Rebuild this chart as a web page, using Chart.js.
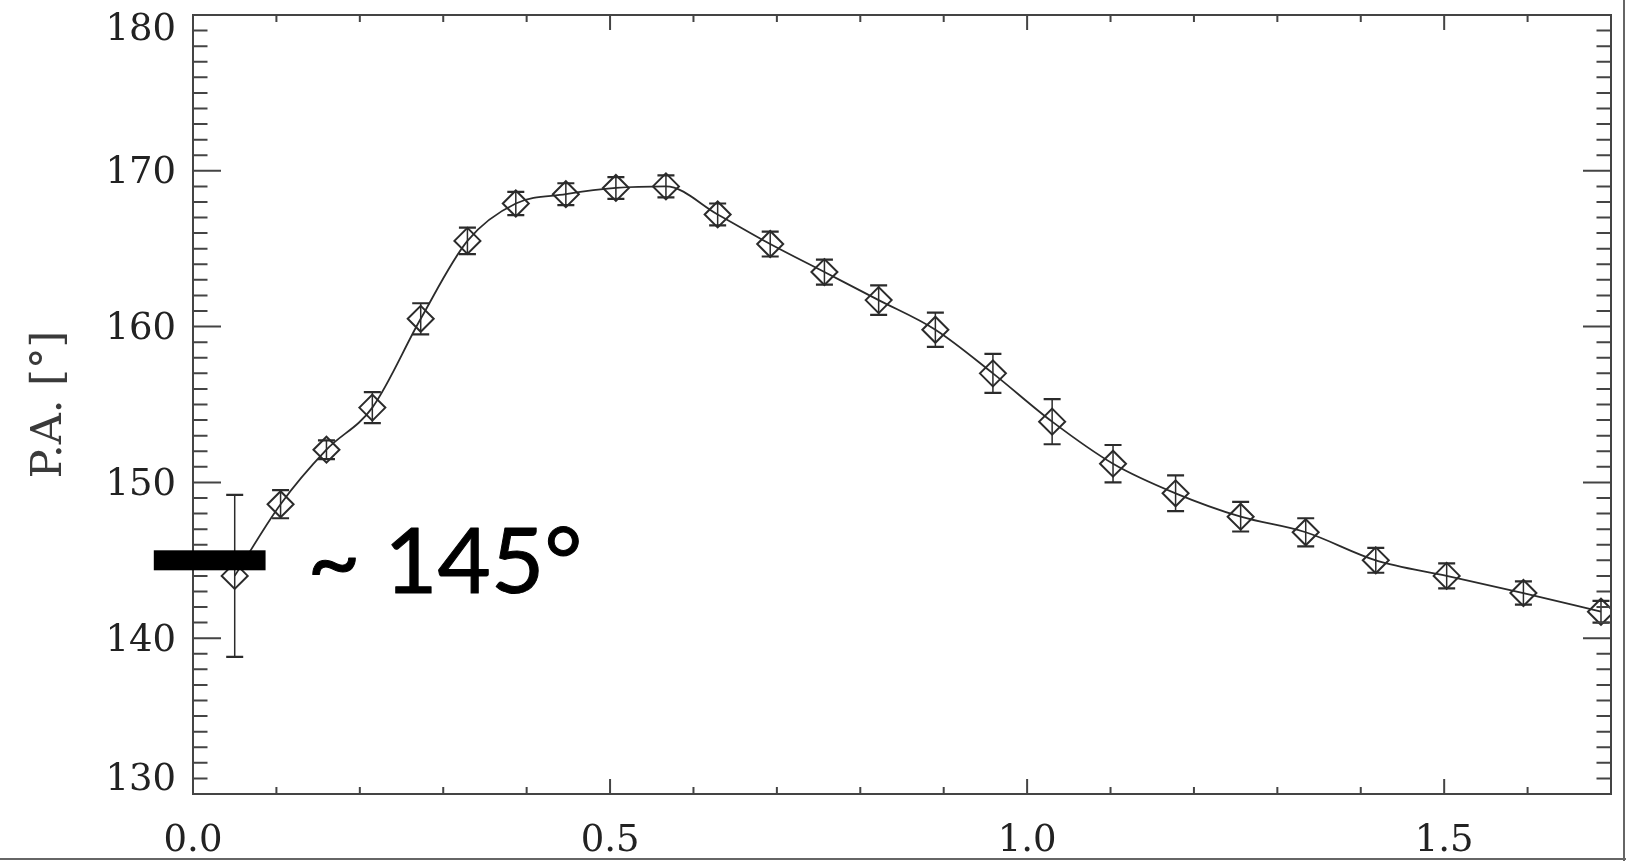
<!DOCTYPE html>
<html>
<head>
<meta charset="utf-8">
<script src="https://cdn.jsdelivr.net/npm/chart.js@4.4.1/dist/chart.umd.min.js"></script>
<style>
  html, body { margin: 0; padding: 0; background: #fff; }
  canvas { display: block; }
</style>
</head>
<body>
<canvas id="paChart" width="1626" height="861"></canvas>
<script>
// Position angle profile with its uncertainties
const radii = [0.050, 0.105, 0.160, 0.215, 0.273, 0.329, 0.387, 0.447, 0.507, 0.567,
               0.629, 0.692, 0.757, 0.822, 0.890, 0.959, 1.030, 1.103, 1.178, 1.256,
               1.334, 1.418, 1.503, 1.595, 1.688];
const positionAngles = [144.0, 148.6, 152.1, 154.8, 160.5, 165.5, 167.9, 168.5, 168.9, 169.0,
                        167.2, 165.3, 163.5, 161.7, 159.8, 157.0, 153.9, 151.2, 149.3, 147.8,
                        146.8, 145.0, 144.0, 142.9, 141.7];
const angleErrors = [5.2, 0.9, 0.6, 1.0, 1.0, 0.85, 0.75, 0.7, 0.7, 0.7,
                     0.7, 0.8, 0.8, 0.95, 1.1, 1.25, 1.45, 1.2, 1.15, 0.95,
                     0.9, 0.8, 0.8, 0.75, 0.7];

// Axes
const xTickLabels = [0.0, 0.5, 1.0, 1.5];
const yTickLabels = [130, 140, 150, 160, 170, 180];
const xMinorStep = 0.1;
const yMinorStep = 1;
const yTitle = "P.A. [°]";

// Level marker drawn at the left edge
const markAngle = 145;
const markFrom = -0.047;
const markTo = 0.087;
const markTextAt = 0.137;
const markText = "~ 145°";

const axisColor = "#444";
const inkColor = "#2b2b2b";
const serif = "'DejaVu Serif', serif";

function onStep(v, step) {
  return Math.abs(v / step - Math.round(v / step)) < 1e-6;
}

const idlFrame = {
  id: "idlFrame",
  beforeDraw(chart) {
    const ctx = chart.ctx;
    ctx.save();
    ctx.fillStyle = "#fff";
    ctx.fillRect(0, 0, chart.width, chart.height);
    ctx.restore();
  },
  afterDatasetsDraw(chart) {
    // vertical error bars with caps
    const { ctx, chartArea: a, scales: { x, y } } = chart;
    ctx.save();
    ctx.beginPath();
    ctx.rect(a.left, a.top, a.right - a.left, a.bottom - a.top);
    ctx.clip();
    ctx.strokeStyle = inkColor;
    radii.forEach((r, i) => {
      const px = x.getPixelForValue(r);
      const hi = y.getPixelForValue(positionAngles[i] + angleErrors[i]);
      const lo = y.getPixelForValue(positionAngles[i] - angleErrors[i]);
      ctx.lineWidth = 1.5;
      ctx.beginPath();
      ctx.moveTo(px, hi);
      ctx.lineTo(px, lo);
      ctx.stroke();
      ctx.lineWidth = 2.2;
      ctx.beginPath();
      ctx.moveTo(px - 8.5, hi); ctx.lineTo(px + 8.5, hi);
      ctx.moveTo(px - 8.5, lo); ctx.lineTo(px + 8.5, lo);
      ctx.stroke();
    });
    ctx.restore();
  },
  afterDraw(chart) {
    const { ctx, chartArea: a, scales: { x, y } } = chart;
    ctx.save();

    // box round the plot
    ctx.strokeStyle = axisColor;
    ctx.lineWidth = 2;
    ctx.strokeRect(a.left, a.top, a.right - a.left, a.bottom - a.top);

    // inward ticks on all four sides
    ctx.beginPath();
    const nY = Math.round((y.max - y.min) / yMinorStep);
    for (let k = 0; k <= nY; k++) {
      const v = y.min + k * yMinorStep;
      const py = y.getPixelForValue(v);
      const len = yTickLabels.includes(v) ? 28 : 14.5;
      ctx.moveTo(a.left, py); ctx.lineTo(a.left + len, py);
      ctx.moveTo(a.right, py); ctx.lineTo(a.right - len, py);
    }
    const nX = Math.round((x.max - x.min) / xMinorStep);
    for (let k = 0; k <= nX; k++) {
      const v = x.min + k * xMinorStep;
      const px = x.getPixelForValue(v);
      const len = onStep(v, 0.5) ? 15 : 7;
      ctx.moveTo(px, a.bottom); ctx.lineTo(px, a.bottom - len);
      ctx.moveTo(px, a.top); ctx.lineTo(px, a.top + len);
    }
    ctx.stroke();

    // y tick labels, end labels kept inside the frame
    ctx.fillStyle = "#222";
    ctx.font = "37px " + serif;
    ctx.textAlign = "right";
    ctx.textBaseline = "middle";
    yTickLabels.forEach(v => {
      let py = y.getPixelForValue(v);
      py = Math.min(Math.max(py, a.top + 12), a.bottom - 17) + 3;
      ctx.fillText(String(v), a.left - 17, py);
    });

    // level marker and its label
    const yMark = y.getPixelForValue(markAngle);
    const x0 = x.getPixelForValue(markFrom);
    const x1 = x.getPixelForValue(markTo);
    ctx.fillStyle = "#000";
    ctx.fillRect(x0, yMark - 10, x1 - x0, 20);
    ctx.font = "92px Lato, sans-serif";
    ctx.textAlign = "left";
    ctx.textBaseline = "alphabetic";
    ctx.strokeStyle = "#000";
    ctx.lineWidth = 1;
    ctx.lineJoin = "round";
    const tx = x.getPixelForValue(markTextAt);
    ctx.fillText(markText, tx, yMark + 33);
    ctx.strokeText(markText, tx, yMark + 33);

    // outer page edge
    ctx.strokeStyle = "#666";
    ctx.lineWidth = 2;
    ctx.beginPath();
    ctx.moveTo(0, chart.height - 2); ctx.lineTo(chart.width, chart.height - 2);
    ctx.moveTo(chart.width - 2, 0); ctx.lineTo(chart.width - 2, chart.height);
    ctx.stroke();
    ctx.restore();
  }
};

const ctx = document.getElementById("paChart").getContext("2d");
new Chart(ctx, {
  type: "line",
  data: {
    datasets: [{
      data: radii.map((r, i) => ({ x: r, y: positionAngles[i] })),
      borderColor: inkColor,
      borderWidth: 1.8,
      cubicInterpolationMode: "monotone",
      pointStyle: "rectRot",
      pointRadius: 13,
      pointBorderWidth: 2,
      pointBorderColor: inkColor,
      pointBackgroundColor: "rgba(0,0,0,0)",
      fill: false
    }]
  },
  options: {
    responsive: false,
    devicePixelRatio: 1,
    animation: false,
    layout: { padding: { top: 14, right: 9, left: 0, bottom: 0 } },
    plugins: { legend: { display: false }, tooltip: { enabled: false } },
    scales: {
      x: {
        type: "linear",
        min: 0,
        max: 1.7,
        afterBuildTicks: s => { s.ticks = xTickLabels.map(v => ({ value: v })); },
        afterFit: s => { s.height = 67; },
        grid: { display: false, drawTicks: false },
        border: { display: false },
        ticks: {
          autoSkip: false,
          maxRotation: 0,
          padding: 25,
          color: "#222",
          font: { family: serif, size: 37 },
          callback: v => Number(v).toFixed(1)
        }
      },
      y: {
        type: "linear",
        min: 130,
        max: 180,
        afterFit: s => { s.width = 193; },
        grid: { display: false, drawTicks: false },
        border: { display: false },
        ticks: { display: false },
        title: {
          display: true,
          text: yTitle,
          color: "#3a3a3a",
          padding: { top: 24, bottom: 0 },
          font: { family: serif, size: 43 }
        }
      }
    }
  },
  plugins: [idlFrame]
});
</script>
</body>
</html>
